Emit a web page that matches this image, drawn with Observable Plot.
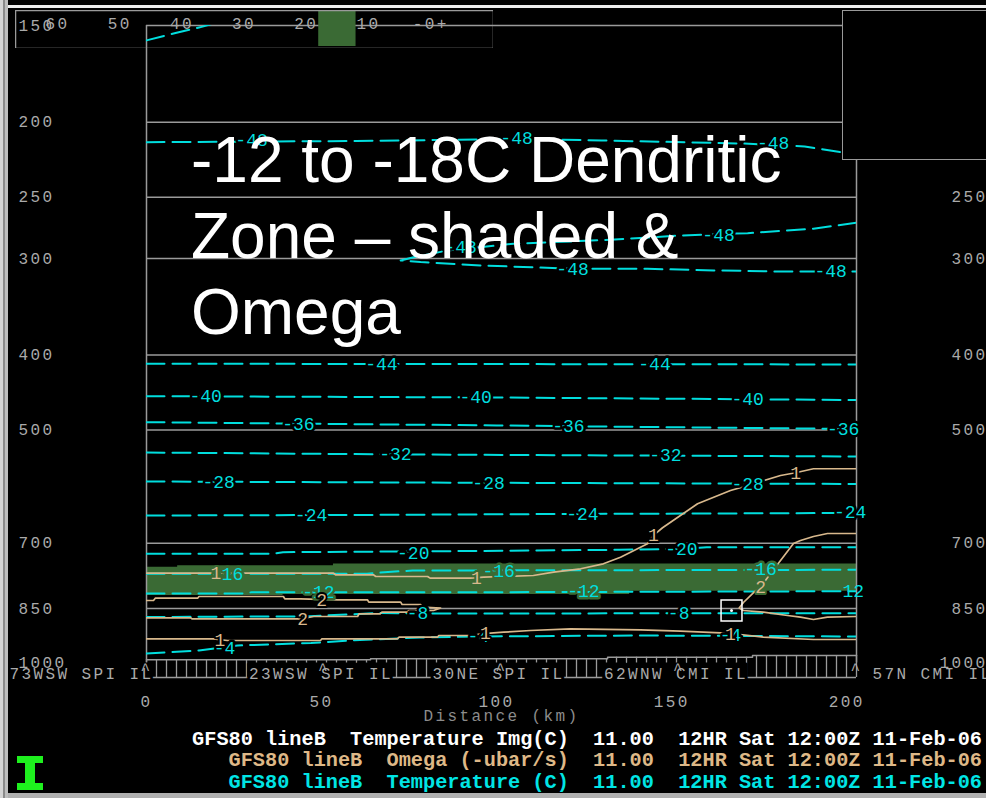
<!DOCTYPE html>
<html>
<head>
<meta charset="utf-8">
<script src="https://cdn.jsdelivr.net/npm/d3@7"></script>
<script src="https://cdn.jsdelivr.net/npm/@observablehq/plot@0.6"></script>
<style>
  html, body { margin: 0; padding: 0; background: #000; }
  #wrap { position: relative; width: 986px; height: 798px; overflow: hidden; background: #000; }
  #main, #colorbar { position: absolute; }
  #main { left: 0; top: 0; }
  #colorbar { left: 15px; top: 10px; }
  #main text, #colorbar text { letter-spacing: 2.4px; }
  #main g[font-size="18"] text { letter-spacing: 0; }
  #title { position: absolute; left: 191px; top: 122px; font: 64px "Liberation Sans", Arial, sans-serif; line-height: 76px; color: #fff; white-space: pre; }
  #legend { position: absolute; right: 4px; top: 728.5px; font: bold 20.25px "Liberation Mono", monospace; line-height: 21.5px; text-align: right; white-space: pre; }
  #rightbox { position: absolute; left: 842px; top: 10px; width: 150px; height: 150px; background: #000; border: 1.5px solid #999; box-sizing: border-box; }
  .deco { position: absolute; }
</style>
</head>
<body>
<div id="wrap">
  <div id="main"></div>
  <div id="colorbar"></div>
  <div id="rightbox"></div>
  <div id="title"></div>
  <div id="legend"></div>
  <div class="deco" style="left:17px;top:756px;width:26px;height:7px;background:#1ef01e"></div>
  <div class="deco" style="left:25px;top:762px;width:10px;height:22px;background:#1ef01e"></div>
  <div class="deco" style="left:17px;top:783px;width:26px;height:7px;background:#1ef01e"></div>
  <div class="deco" style="left:0;top:5px;width:986px;height:3px;background:#eeeeee"></div>
  <div class="deco" style="left:0;top:793px;width:986px;height:5px;background:#b0b0b0"></div>
  <div class="deco" style="left:0;top:0;width:8px;height:798px;background:linear-gradient(to right,#d4d4d4 0 3px,#8a8a8a 3px 5px,#bdbdbd 5px 8px)"></div>
</div>
<script>
// ---------------- data ----------------
const pressureTicks = [150, 200, 250, 300, 400, 500, 700, 850, 1000];
const gridLevels = [200, 250, 300, 400, 500, 700, 850];
const distTicks = [0, 50, 100, 150, 200];
const xMax = 202.8;
const stationDist = [0, 50.7, 101.4, 152.1, 202.8];
const stationNames = ["73WSW SPI IL", "23WSW SPI IL", "30NE SPI IL", "62WNW CMI IL", "57N CMI IL"];

// -12 to -18C dendritic zone (temperature image), stepped edges
const dzDist   = [0, 8.9, 39, 53.4, 138, 202.8];
const dzTop    = [751.9, 748.8, 748.8, 744.8, 744.8, 744.8];
const dzBottom = [818.0, 818.0, 815.3, 815.3, 807.6, 807.6];

// temperature contours (C): [distance km, pressure hPa]
const tM4  = [[0,972.1],[15,963.5],[26,949.3],[47,942.2],[58,935.2],[78,926.9],[95,924.2],[140,921.4],[202.8,924.2]];
const tM8  = [[0,872.0],[45,870.5],[66,862.0],[84,863.0],[202.8,862.2]];
const tM12 = [[0,813.4],[27,813.4],[30,810.1],[95,810.1],[202.8,807.6]];
const tM16 = [[0,766.8],[63,766.8],[68,763.2],[76,759.4],[202.8,757.8]];
const tM20 = [[0,722.5],[36,722.5],[39,719.1],[95,716.5],[135,714.0],[154,711.8],[160,708.5],[202.8,708.5]];
const tM24 = [[0,644.7],[60,643.7],[120,641.8],[202.8,639.9]];
const tM28 = [[0,582.7],[75,584.4],[202.8,587.0]];
const tM32 = [[0,534.5],[75,537.7],[202.8,540.9]];
const tM36 = [[0,488.4],[100,493.2],[202.8,498.4]];
const tM40 = [[0,452.0],[100,453.8],[202.8,457.2]];
const tM44 = [[0,410.4],[202.8,411.3]];
const tM48a = [[0,212.3],[60,211.5],[108,210.3],[130,211.2],[170,213.1],[188,215.0],[198.8,218.9],[202.8,219.5]];
const tM48b = [[202.8,269.8],[190.5,274.6],[171.7,278.3],[152.5,280.2],[132.5,283.8],[104.8,287.2],[86,293.0],[76.3,298.9],[72.6,301.8],[78.3,303.3],[95.4,306.3],[121.7,309.4],[143.1,309.4],[162,310.9],[181.1,311.9],[202.8,311.9]];
const tM52 = [[0,156.8],[8,153.5],[16.3,150.4],[18.3,149.5]];
const tempLabels = [
  [22.3,957.8,"-4"],[94.8,924.2,"-4"],[166.8,921.4,"-4"],
  [77.4,863.0,"-8"],[152,862.2,"-8"],
  [49.1,810.6,"-12"],[124.8,808.4,"-12"],[201.9,807.6,"12"],
  [23,768.4,"-16"],[100.6,760.5,"-16"],[175.4,757.1,"-16"],
  [76.2,720.8,"-20"],[152.8,711.8,"-20"],
  [47,644.7,"-24"],[124.5,641.8,"-24"],[201,639.0,"-24"],
  [20.6,584.4,"-28"],[97.7,585.3,"-28"],[171.7,587.9,"-28"],
  [71.1,537.7,"-32"],[148.2,539.2,"-32"],
  [43.4,491.7,"-36"],[120.5,494.6,"-36"],[199,498.4,"-36"],
  [16.9,452.4,"-40"],[94,453.8,"-40"],[171.7,456.5,"-40"],
  [67.1,411.3,"-44"],[145.1,411.3,"-44"],
  [30,211.2,"-48"],[105.7,209.9,"-48"],[179,213.1,"-48"],
  [89.7,290.1,"-48"],[163.4,279.6,"-48"],[121.7,309.4,"-48"],[195.4,311.9,"-48"]
];

// omega contours (-ubar/s)
const om1Upper = [[0,765.5],[53.4,765.5],[54,769.1],[64.8,769.1],[65.5,773],[80.3,773],[81,776.9],[92.5,776.9],[96.3,774.6],[110.5,770.7],[116.3,763.2],[124,755.5],[130.5,744.4],[135.4,729.9],[141.1,708.5],[143.1,701.3],[144.8,684.2],[147.4,668.7],[152.5,644.7],[157.4,622.7],[166.8,598.5],[173.4,586.7],[181.1,572.4],[185.4,567.7],[190.5,561.0],[202.8,561.0]];
const om2West = [[0,830.3],[2,830.3],[2.5,824.6],[14.6,824.6],[15,820.5],[39.1,820.5],[39.5,826.1],[44,826.1],[54.6,828.5],[63.1,828.5],[63.5,834.4],[72.6,834.4],[73,840.2],[78.3,840.2],[78.7,847],[84,849],[82,855.3],[74.9,855.3],[74.5,859.7],[67.2,859.7],[66.8,863.8],[60.7,863.8],[60.3,870.8],[47.7,870.8],[44,876.8],[13,876.8],[12.6,874.1],[0,874.1]];
const om2East = [[202.8,680.2],[194.5,680.2],[190.5,686.3],[186.8,694.5],[184.8,700.7],[181.1,737.1],[178.2,766.2],[175.4,798.8],[173.4,810.8],[170.5,835.2],[169.3,849],[170.5,855.3],[176.2,859.7],[183.1,868.2],[186.8,872.6],[190.5,878.5],[194.5,872.6],[202.8,870.8]];
const om1Lower = [[0,930.5],[19.1,930.5],[23.1,935.2],[49.7,935.2],[50.1,930.5],[71.7,930.5],[72.1,926.1],[83.1,926.1],[83.5,921.4],[93.4,921.4],[95.4,916.8],[102,912.4],[109.7,907.8],[121.1,903.2],[141.1,905.9],[152.5,909.7],[164,914],[169.6,918.7],[176.2,926.1],[190.5,932.5],[202.8,932.5]];
const omegaLabels = [[19.8,765.5,"1"],[94.2,777.6,"1"],[144.8,684.2,"1"],[185.4,567.7,"1"],[50,830.3,"2"],[44.6,876.8,"2"],[175.4,798.8,"2"],[21,933.3,"1"],[96.8,916.0,"1"],[166.8,916.8,"1"]];

// terrain (hPa) steps and comb bottom
const terrainDist = [0, 64, 131.7, 173.1, 202.8];
const terrainP    = [990.5, 987.6, 982.9, 977.9, 977.9];
const combBottomP = 1044.1;
const cursor = [{d: 167.1, p: 855.3}];

// colour bar of the temperature image
const cbValues = [-60, -50, -40, -30, -20, -10, 0];
const cbLabels = ["60", "50", "40", "30", "20", "10", "-0+"];
const cbDomain = [-66.75, 10.1];
const dzRange = [-18, -12];

const titleLines = ["-12 to -18C Dendritic", "Zone \u2013 shaded &", "Omega"];
const legendRows = [
  ["GFS80 lineB  Temperature Img(C)  11.00  12HR Sat 12:00Z 11-Feb-06", "#ffffff"],
  ["GFS80 lineB  Omega (-ubar/s)  11.00  12HR Sat 12:00Z 11-Feb-06", "#deb887"],
  ["GFS80 lineB  Temperature (C)  11.00  12HR Sat 12:00Z 11-Feb-06", "#00e5e5"]
];

// ---------------- build ----------------
const CYAN = "#00dede", TAN = "#d8b88c", GRID = "#9a9a9a", TXT = "#aaaaaa", GREEN = "#3a6a34";
const MONO = "Liberation Mono";

const band = dzDist.map((d, i) => ({d, top: dzTop[i], bottom: dzBottom[i]}));
const inBand = (d, p) => {
  const i = Math.max(0, d3.bisectRight(dzDist, d) - 1);
  return p >= dzTop[i] && p <= dzBottom[i];
};
const haloFor = (d, p) => inBand(d, p) ? (d > 198 ? "none" : GREEN) : "black";
const tempSets = [["-4",tM4],["-8",tM8],["-12",tM12],["-16",tM16],["-20",tM20],["-24",tM24],["-28",tM28],["-32",tM32],["-36",tM36],["-40",tM40],["-44",tM44],["-48a",tM48a],["-48b",tM48b],["-52",tM52]];
const tempRows = tempSets.flatMap(([id, pts]) => pts.map(([d, p]) => ({id, d, p})));
const omegaSets = [["1u",om1Upper],["2w",om2West],["2e",om2East],["1l",om1Lower]];
const omegaRows = omegaSets.flatMap(([id, pts]) => pts.map(([d, p]) => ({id, d, p})));
const tLab = tempLabels.map(([d, p, t]) => ({d, p, t, halo: haloFor(d, p)}));
const oLab = omegaLabels.map(([d, p, t]) => ({d, p, t, halo: haloFor(d, p)}));
const terrain = terrainDist.map((d, i) => ({d, p: terrainP[i]}));
const terrainAt = d => terrainP[Math.max(0, d3.bisectRight(terrainDist, d) - 1)];
const combTicks = d3.range(72).map(i => i * xMax / 71);
const stations = stationDist.map((d, i) => ({d, name: stationNames[i], block: stationNames[i].replace(/./g, "\u2588")}));

const stationMarks = (text, fill, extra) => [
  Plot.text(stations.slice(0, 1), {x: "d", text, frameAnchor: "bottom", dy: 15.5, dx: 7, textAnchor: "end", fill, ...extra}),
  Plot.text(stations.slice(1, 4), {x: "d", text, frameAnchor: "bottom", dy: 15.5, dx: -3, fill, ...extra}),
  Plot.text(stations.slice(4), {x: "d", text, frameAnchor: "bottom", dy: 15.5, dx: 16, textAnchor: "start", fill, ...extra})
];

const main = Plot.plot({
  width: 986, height: 798,
  marginLeft: 146, marginRight: 130, marginTop: 25, marginBottom: 135.5,
  x: {domain: [0, xMax], axis: null},
  y: {type: "log", domain: [1000, 150], axis: null},
  style: {background: "black", fontFamily: MONO, fontSize: "16px"},
  marks: [
    Plot.areaY(band, {x: "d", y1: "bottom", y2: "top", curve: "step-after", fill: GREEN}),
    Plot.ruleY(gridLevels, {stroke: GRID, strokeWidth: 1.5}),
    Plot.ruleY([150], {stroke: GRID, strokeWidth: 1.5}),
    Plot.ruleX([0, xMax], {y1: 150, y2: 1000, stroke: GRID, strokeWidth: 1.5}),
    Plot.line(tempRows, {x: "d", y: "p", z: "id", stroke: CYAN, strokeWidth: 2, strokeDasharray: "18,8", clip: true}),
    Plot.line(omegaRows, {x: "d", y: "p", z: "id", stroke: TAN, strokeWidth: 1.7, clip: true}),
    Plot.text(tLab, {x: "d", y: "p", text: "t", fill: "halo", stroke: "halo", strokeWidth: 5, fontSize: 18, fontFamily: MONO}),
    Plot.text(tLab, {x: "d", y: "p", text: "t", fill: CYAN, fontSize: 18, fontFamily: MONO}),
    Plot.text(oLab, {x: "d", y: "p", text: "t", fill: "halo", stroke: "halo", strokeWidth: 4, fontSize: 18, fontFamily: MONO}),
    Plot.text(oLab, {x: "d", y: "p", text: "t", fill: TAN, fontSize: 18, fontFamily: MONO}),
    Plot.dot(cursor, {x: "d", y: "p", symbol: "square", r: 11.8, stroke: "white", strokeWidth: 1.5, fill: "none"}),
    Plot.dot(cursor, {x: "d", y: "p", r: 1.5, fill: "white"}),
    // terrain comb
    Plot.ruleX(combTicks, {x: d => d, y1: d => terrainAt(d), y2: combBottomP, stroke: GRID, strokeWidth: 1.3}),
    Plot.ruleY([combBottomP], {stroke: GRID, strokeWidth: 1.3}),
    Plot.line(terrain, {x: "d", y: "p", curve: "step-after", stroke: GRID, strokeWidth: 1.5}),
    // station labels: black blocks behind, then text
    ...stationMarks("block", "black", {stroke: "black", strokeWidth: 3, fontFamily: "DejaVu Sans Mono"}),
    ...stationMarks("name", TXT, {}),
    Plot.text(stations, {x: "d", text: () => "^", frameAnchor: "bottom", dy: 12, lineAnchor: "bottom", fill: TXT}),
    // axes text
    Plot.text(pressureTicks, {y: d => d, text: d => String(d), frameAnchor: "left", dx: -128, textAnchor: "start", fill: TXT}),
    Plot.text(pressureTicks, {y: d => d, text: d => String(d), frameAnchor: "right", dx: 131, textAnchor: "end", fill: TXT}),
    Plot.text(distTicks, {x: d => d, text: d => String(d), frameAnchor: "bottom", dy: 43.5, fill: TXT}),
    Plot.text(["Distance (km)"], {text: d => d, frameAnchor: "bottom", dy: 58, fill: "#8c8c8c"})
  ]
});
document.getElementById("main").appendChild(main);

const cb = Plot.plot({
  width: 478, height: 38, margin: 0,
  x: {domain: cbDomain, axis: null},
  y: {domain: [0, 38], axis: null},
  style: {background: "transparent", fontFamily: MONO, fontSize: "16px"},
  marks: [
    Plot.rect([dzRange], {x1: d => d[0], x2: d => d[1], y1: 2, y2: 38, fill: GREEN}),
    Plot.text(cbValues, {x: d => d, y: 25, text: (d, i) => cbLabels[i], fill: TXT}),
    Plot.frame({stroke: GRID, strokeWidth: 1.5})
  ]
});
document.getElementById("colorbar").appendChild(cb);

document.getElementById("title").textContent = titleLines.join("\n");
const lg = document.getElementById("legend");
for (const [t, c] of legendRows) {
  const div = document.createElement("div");
  div.textContent = t; div.style.color = c;
  lg.appendChild(div);
}
</script>
</body>
</html>
